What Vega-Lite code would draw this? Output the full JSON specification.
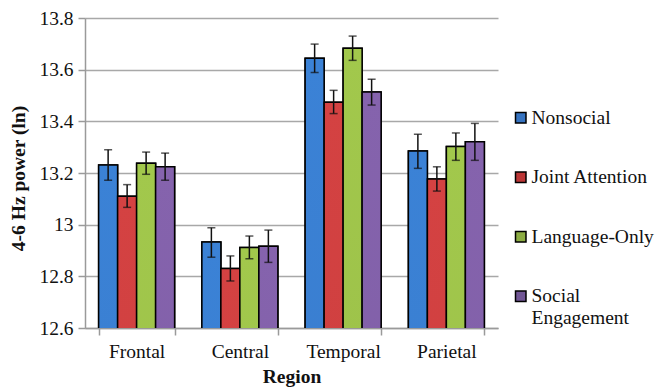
{
  "$schema": "https://vega.github.io/schema/vega-lite/v6.json",
  "autosize": "none",
  "width": 413,
  "height": 310,
  "padding": {"left": 85, "top": 18, "right": 159, "bottom": 60},
  "background": "white",
  "config": {
    "view": {"stroke": null},
    "font": "Liberation Serif",
    "axis": {"labelFont": "Liberation Serif", "titleFont": "Liberation Serif", "labelFontSize": 19.5, "titleFontSize": 19.5, "labelColor": "#111", "titleColor": "#111", "titleFontWeight": "bold", "domainColor": "#9a9a9a", "tickColor": "#9a9a9a", "gridColor": "#a8a8a8", "domainWidth": 1.5, "tickWidth": 1.5, "gridWidth": 1.3, "tickSize": 7},
    "legend": {"labelFont": "Liberation Serif"}
  },
  "data": {"values": [
    {"region": "Frontal", "group": "Nonsocial", "value": 13.231, "lo": 13.172, "hi": 13.290},
    {"region": "Frontal", "group": "Joint Attention", "value": 13.110, "lo": 13.067, "hi": 13.155},
    {"region": "Frontal", "group": "Language-Only", "value": 13.238, "lo": 13.195, "hi": 13.281},
    {"region": "Frontal", "group": "Social Engagement", "value": 13.224, "lo": 13.172, "hi": 13.277},
    {"region": "Central", "group": "Nonsocial", "value": 12.933, "lo": 12.874, "hi": 12.988},
    {"region": "Central", "group": "Joint Attention", "value": 12.830, "lo": 12.782, "hi": 12.879},
    {"region": "Central", "group": "Language-Only", "value": 12.912, "lo": 12.868, "hi": 12.956},
    {"region": "Central", "group": "Social Engagement", "value": 12.916, "lo": 12.854, "hi": 12.979},
    {"region": "Temporal", "group": "Nonsocial", "value": 13.644, "lo": 13.589, "hi": 13.699},
    {"region": "Temporal", "group": "Joint Attention", "value": 13.474, "lo": 13.430, "hi": 13.520},
    {"region": "Temporal", "group": "Language-Only", "value": 13.683, "lo": 13.636, "hi": 13.730},
    {"region": "Temporal", "group": "Social Engagement", "value": 13.514, "lo": 13.463, "hi": 13.563},
    {"region": "Parietal", "group": "Nonsocial", "value": 13.285, "lo": 13.218, "hi": 13.350},
    {"region": "Parietal", "group": "Joint Attention", "value": 13.177, "lo": 13.130, "hi": 13.224},
    {"region": "Parietal", "group": "Language-Only", "value": 13.303, "lo": 13.249, "hi": 13.355},
    {"region": "Parietal", "group": "Social Engagement", "value": 13.321, "lo": 13.249, "hi": 13.392}
  ]},
  "encoding": {
    "x": {"field": "region", "type": "nominal", "sort": ["Frontal", "Central", "Temporal", "Parietal"],
      "scale": {"paddingInner": 0.264, "paddingOuter": 0.132},
      "axis": {"title": "Region", "labelAngle": 0, "tickBand": "extent", "labelPadding": 7, "titlePadding": 7, "grid": false, "labelFont": "Liberation Serif", "titleFont": "Liberation Serif", "labelFontSize": 19.5, "titleFontSize": 19.5}},
    "xOffset": {"field": "group", "type": "nominal", "sort": ["Nonsocial", "Joint Attention", "Language-Only", "Social Engagement"], "scale": {"paddingInner": 0, "paddingOuter": 0}}
  },
  "layer": [
    {
      "mark": {"type": "bar", "stroke": "black", "strokeWidth": 1.5, "clip": true},
      "encoding": {
        "y": {"field": "value", "type": "quantitative",
          "scale": {"domain": [12.6, 13.8], "zero": false, "nice": false},
          "axis": {"title": "4-6 Hz power (ln)", "values": [12.6, 12.8, 13.0, 13.2, 13.4, 13.6, 13.8], "format": ".1~f", "labelPadding": 5, "titlePadding": 10, "titleY": 160, "grid": true, "labelFont": "Liberation Serif", "titleFont": "Liberation Serif", "labelFontSize": 19.5, "titleFontSize": 19.5}},
        "color": {"field": "group", "type": "nominal", "sort": ["Nonsocial", "Joint Attention", "Language-Only", "Social Engagement"],
          "scale": {"range": ["#3673c0", "#bb3636", "#8cac43", "#715695"]},
          "legend": {"title": null, "orient": "none", "legendX": 426, "legendY": 90, "symbolType": "square", "symbolSize": 110, "symbolStrokeColor": "black", "symbolStrokeWidth": 1.5, "labelFont": "Liberation Serif", "labelFontSize": 19.5, "labelColor": "#111", "rowPadding": 38.5, "labelOffset": 1, "labelBaseline": "middle", "labelLimit": 200,
            "labelExpr": "datum.label == 'Social Engagement' ? ['Social', 'Engagement'] : datum.label"}}
      }
    },
    {
      "transform": [{"filter": "datum.group == 'Nonsocial'"}],
      "mark": {"type": "bar", "clip": true, "stroke": "black", "strokeWidth": 1.5, "fill": {"gradient": "linear", "x1": 0, "y1": 0, "x2": 0, "y2": 1, "stops": [{"offset": 0, "color": "#3b82d6"}, {"offset": 1, "color": "#2c5b97"}]}},
      "encoding": {"y": {"field": "value", "type": "quantitative"}}
    },
    {
      "transform": [{"filter": "datum.group == 'Joint Attention'"}],
      "mark": {"type": "bar", "clip": true, "stroke": "black", "strokeWidth": 1.5, "fill": {"gradient": "linear", "x1": 0, "y1": 0, "x2": 0, "y2": 1, "stops": [{"offset": 0, "color": "#d44242"}, {"offset": 1, "color": "#9a2b2b"}]}},
      "encoding": {"y": {"field": "value", "type": "quantitative"}}
    },
    {
      "transform": [{"filter": "datum.group == 'Language-Only'"}],
      "mark": {"type": "bar", "clip": true, "stroke": "black", "strokeWidth": 1.5, "fill": {"gradient": "linear", "x1": 0, "y1": 0, "x2": 0, "y2": 1, "stops": [{"offset": 0, "color": "#a2c84c"}, {"offset": 1, "color": "#738d36"}]}},
      "encoding": {"y": {"field": "value", "type": "quantitative"}}
    },
    {
      "transform": [{"filter": "datum.group == 'Social Engagement'"}],
      "mark": {"type": "bar", "clip": true, "stroke": "black", "strokeWidth": 1.5, "fill": {"gradient": "linear", "x1": 0, "y1": 0, "x2": 0, "y2": 1, "stops": [{"offset": 0, "color": "#8563ad"}, {"offset": 1, "color": "#5c447e"}]}},
      "encoding": {"y": {"field": "value", "type": "quantitative"}}
    },
    {
      "mark": {"type": "rule", "color": "#111", "strokeWidth": 1.5},
      "encoding": {"y": {"field": "lo", "type": "quantitative"}, "y2": {"field": "hi"}}
    },
    {
      "mark": {"type": "tick", "color": "#111", "thickness": 1.5, "size": 8},
      "encoding": {"y": {"field": "lo", "type": "quantitative"}}
    },
    {
      "mark": {"type": "tick", "color": "#111", "thickness": 1.5, "size": 8},
      "encoding": {"y": {"field": "hi", "type": "quantitative"}}
    }
  ]
}
